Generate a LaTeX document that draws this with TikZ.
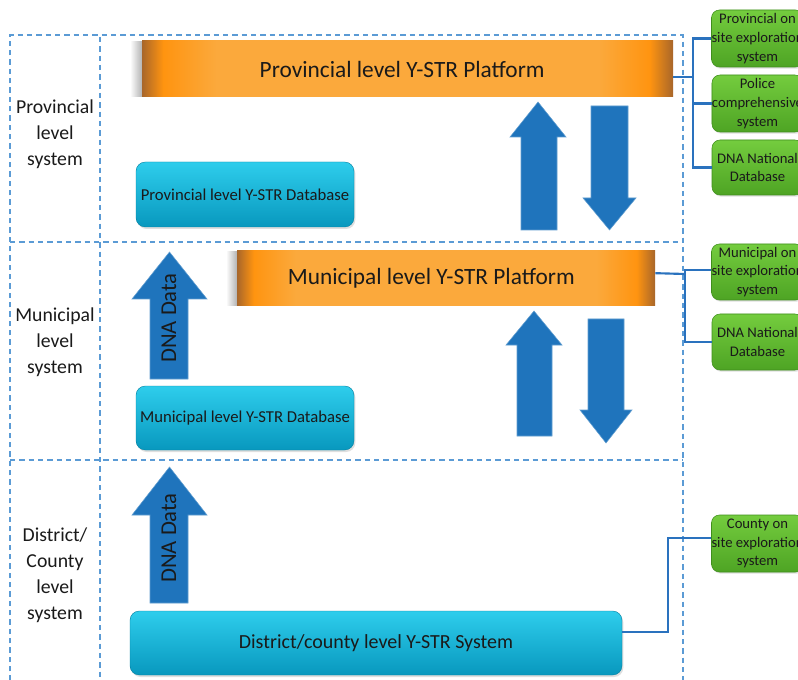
\documentclass[tikz,border=0pt]{standalone}
\usepackage{fontspec}
\setmainfont{Carlito}
\usetikzlibrary{shadows}

\definecolor{dashblue}{HTML}{5B9BD5}
\definecolor{linkblue}{HTML}{2A72BE}
\definecolor{arrowblue}{HTML}{1F74BC}
\definecolor{odark}{HTML}{A8662A}
\definecolor{omain}{HTML}{FF9410}
\definecolor{olight}{HTML}{FBA93C}
\definecolor{cyantop}{HTML}{2ECDEC}
\definecolor{cyanbot}{HTML}{0898BE}
\definecolor{greentop}{HTML}{74CC3E}
\definecolor{greenbot}{HTML}{4EA424}
\definecolor{greenrim}{HTML}{3F8E1C}
\definecolor{inkcol}{HTML}{1A1A1A}

% orange bar: dark rims, bright body
\pgfdeclarehorizontalshading{orangebar}{100bp}{color(0bp)=(odark); color(25bp)=(odark);
  color(27bp)=(omain); color(32bp)=(olight); color(50bp)=(olight); color(68bp)=(olight);
  color(72.8bp)=(omain); color(75bp)=(odark); color(100bp)=(odark)}

\tikzset{
  frame/.style={dashblue, dash pattern=on 4pt off 3pt, line width=0.9pt},
  platform/.style={shading=orangebar, draw=none, text=inkcol, inner sep=0pt,
    font=\fontsize{17.5}{20}\selectfont},
  database/.style={rounded corners=7pt, top color=cyantop, bottom color=cyanbot,
    draw=cyanbot!85!black, line width=0.3pt, text=inkcol, inner sep=0pt,
    drop shadow={opacity=0.25, shadow xshift=1pt, shadow yshift=-1.5pt}},
  extsys/.style={rounded corners=6pt, top color=greentop, bottom color=greenbot,
    draw=greenrim, line width=0.4pt, text=inkcol, align=center, inner sep=0pt,
    minimum width=68.25pt, font=\fontsize{11}{14}\selectfont,
    drop shadow={opacity=0.25, shadow xshift=0.8pt, shadow yshift=-1.2pt}},
  link/.style={linkblue, line width=1.6pt},
  bigarrow/.style={fill=arrowblue, draw=arrowblue!70!white, line width=0.4pt},
  levellabel/.style={align=center, text=inkcol, font=\fontsize{14.8}{19.5}\selectfont},
  arrowtext/.style={rotate=90, text=inkcol, font=\fontsize{17}{19}\selectfont}
}

\begin{document}
\begin{tikzpicture}[x=0.75pt,y=-0.75pt]
\clip (0,0) rectangle (798,680);
\fill[white] (0,0) rectangle (798,680);

% dashed frame with level rows
\draw[frame] (10,690) -- (10,35) -- (683,35) -- (683,690);
\draw[frame] (100,37) -- (100,690);
\draw[frame] (10,242) -- (683,242);
\draw[frame] (10,460) -- (683,460);

% level names
\node[levellabel] (lprov) at (55,134) {Provincial\\level\\system};
\node[levellabel] (lmun) at (55,342) {Municipal\\level\\system};
\node[levellabel] (ldist) at (55,575) {District/\\County\\level\\system};

% soft shade to the left of the platforms
\shade[left color=white, right color=black!30] (130,42) rectangle (142,97);
\shade[left color=white, right color=black!30] (226,252) rectangle (237,306);

% platforms
\node[platform, minimum width=398.25pt, minimum height=42pt] (pplat) at (407.5,69)
  {\hspace*{-8pt}Provincial level Y-STR Platform};
\node[platform, minimum width=313.5pt, minimum height=41.25pt] (mplat) at (446,278.5)
  {\hspace*{-22pt}Municipal level Y-STR Platform};

% databases and county system
\node[database, minimum width=163.5pt, minimum height=48.75pt,
  font=\fontsize{12.5}{14}\selectfont] (pdb) at (245,194.5) {Provincial level Y-STR Database};
\node[database, minimum width=163.5pt, minimum height=48pt,
  font=\fontsize{12.5}{14}\selectfont] (mdb) at (245,418) {Municipal level Y-STR Database};
\node[database, minimum width=369pt, minimum height=48pt,
  font=\fontsize{15}{17}\selectfont] (dsys) at (376,643) {District/county level Y-STR System};

% external systems
\node[extsys, minimum height=42.75pt] (g1) at (757.5,38.5) {Provincial on\\site exploration\\system};
\node[extsys, minimum height=42.75pt] (g2) at (757.5,103.5) {Police\\comprehensive\\system};
\node[extsys, minimum height=41.25pt] (g3) at (757.5,167.5) {DNA National\\Database};
\node[extsys, minimum height=42pt] (g4) at (757.5,272) {Municipal on\\site exploration\\system};
\node[extsys, minimum height=42pt] (g5) at (757.5,342) {DNA National\\Database};
\node[extsys, minimum height=42.75pt] (g6) at (757.5,543.5) {County on\\site exploration\\system};

% provincial links
\coordinate (pbus) at (693,77);
\draw[link] ([yshift=-6pt]pplat.east) -- (pbus);
\draw[link] (g1.west) -- (g1.west -| pbus) -- (g3.west -| pbus) -- (g3.west);
\draw[link] (g2.west) -- (g2.west -| pbus);

% municipal links
\coordinate (mbus) at (685,274);
\draw[link] ([yshift=4pt]mplat.east) -- (mbus);
\draw[link] ([yshift=1.5pt]g4.west) -- ([yshift=1.5pt]g4.west -| mbus) -- (g5.west -| mbus) -- (g5.west);

% county link
\draw[link] ([yshift=8pt]dsys.east) -- ++(46,0) |- ([yshift=4pt]g6.west);

% exchange arrows, provincial level
\path[bigarrow] (521,230) -- (521,137) -- (510,137) -- (538,102) -- (566,137) -- (557,137) -- (557,230) -- cycle;
\path[bigarrow] (591,106) -- (628,106) -- (628,198) -- (636,198) -- (609.5,230) -- (583,198) -- (591,198) -- cycle;

% exchange arrows, municipal level
\path[bigarrow] (517,436) -- (517,345) -- (506,345) -- (534,311) -- (562,345) -- (552,345) -- (552,436) -- cycle;
\path[bigarrow] (588,319) -- (624,319) -- (624,410) -- (632,410) -- (606,443) -- (580,410) -- (588,410) -- cycle;

% DNA data arrows
\path[bigarrow] (150,379) -- (150,299) -- (132,299) -- (169.5,252) -- (207,299) -- (188,299) -- (188,379) -- cycle;
\node[arrowtext] (dna1) at (169,318) {DNA Data};
\path[bigarrow] (150,603) -- (150,515) -- (132,515) -- (169.5,467) -- (207,515) -- (188,515) -- (188,603) -- cycle;
\node[arrowtext] (dna2) at (169,538) {DNA Data};
\end{tikzpicture}
\end{document}
